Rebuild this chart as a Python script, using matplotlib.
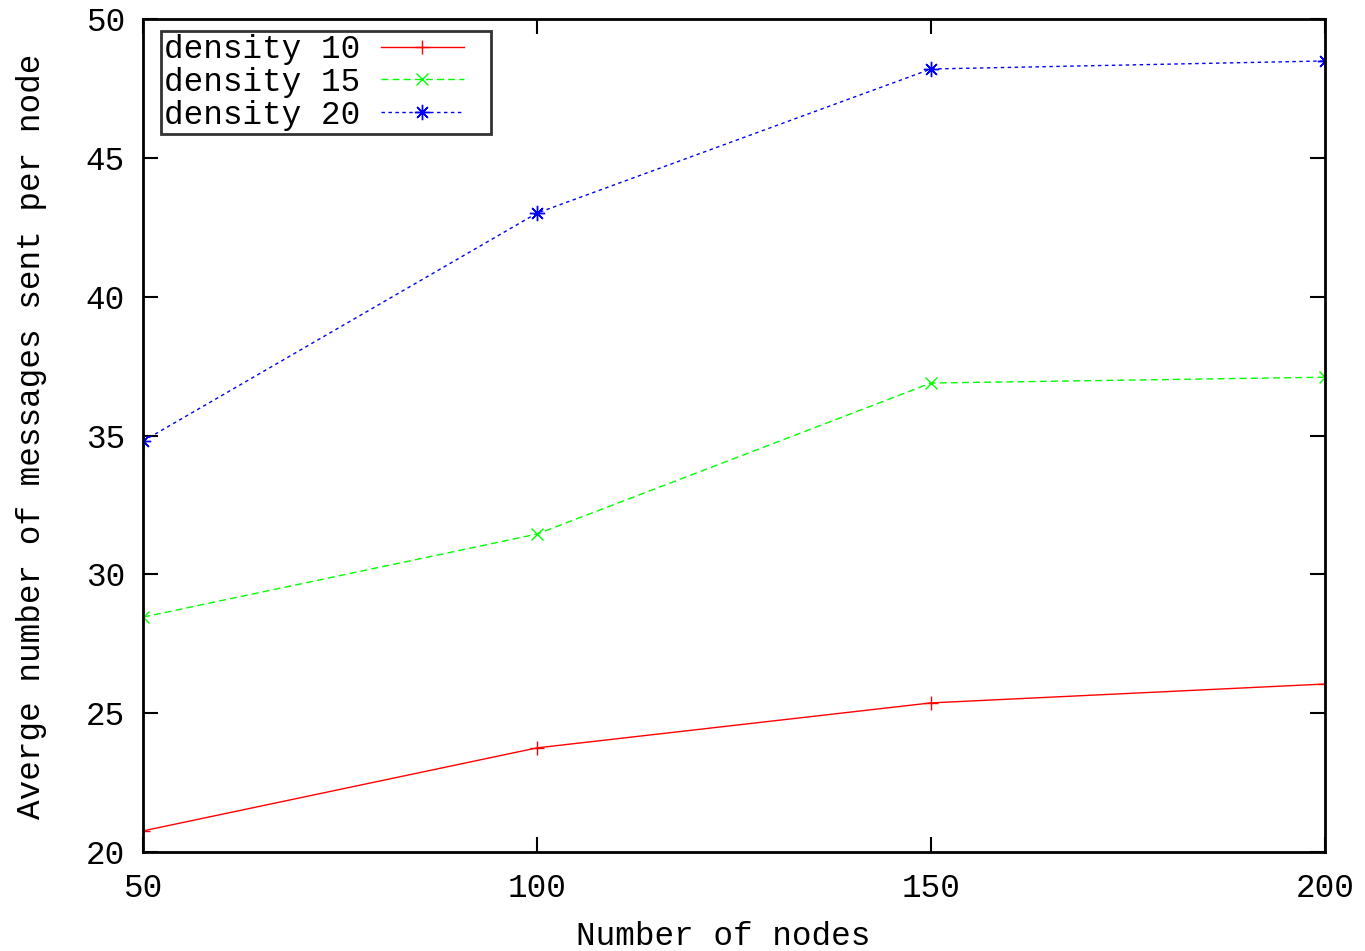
import matplotlib
matplotlib.use("Agg")
import matplotlib.pyplot as plt
from matplotlib.legend_handler import HandlerLine2D

nodes = [50, 100, 150, 200]
density10 = [20.76, 23.75, 25.37, 26.05]
density15 = [28.46, 31.45, 36.89, 37.10]
density20 = [34.80, 43.01, 48.20, 48.49]
labels = ["density 10", "density 15", "density 20"]
xticks = [50, 100, 150, 200]
yticks = [20, 25, 30, 35, 40, 45, 50]

plt.rcParams['font.family'] = ['Liberation Mono', 'DejaVu Sans Mono']


class PaddedLine(HandlerLine2D):
    def create_artists(self, legend, orig_handle, xdescent, ydescent, width, height, fontsize, trans):
        return super().create_artists(legend, orig_handle, xdescent, ydescent, width - 17, height, fontsize, trans)


fig = plt.figure(figsize=(13.65, 9.51), dpi=100)
ax = fig.add_axes([0.1048, 0.1041, 0.8659, 0.8759])

fs = 23.5
l1, = ax.plot(nodes, density10, color='#ff0000', lw=1, ls='-', marker='+', ms=10, mew=1, label=labels[0])
l2, = ax.plot(nodes, density15, color='#00ff00', lw=1, ls=(0, (5, 3)), marker='x', ms=8, mew=1, label=labels[1])
l3, = ax.plot(nodes, density20, color='#0000ff', lw=1, ls=(0, (2.5, 2.5)), marker=(8, 2, 0), ms=11, mew=1, label=labels[2])

ax.set_xlim(50, 200)
ax.set_ylim(20, 50)
ax.set_xticks(xticks)
ax.set_yticks(yticks)
ax.tick_params(direction='in', length=11, width=1.5, top=True, right=True, labelsize=fs, colors='black')
ax.tick_params(axis='x', pad=15)
ax.tick_params(axis='y', pad=13)
for s in ax.spines.values():
    s.set_linewidth(2)

ax.set_xlabel("Number of nodes", fontsize=fs)
ax.xaxis.set_label_coords((723 - 143) / 1182, -(937 - 852) / 833)
ax.xaxis.label.set_va('center')
ax.set_ylabel("Averge number of messages sent per node", fontsize=fs)
ax.yaxis.set_label_coords(-(143 - 31) / 1182, (852 - 436) / 833)
ax.yaxis.label.set_va('center')

fpx = fs * 100 / 72.0
leg = ax.legend(handler_map={l1: PaddedLine(), l2: PaddedLine(), l3: PaddedLine()},
                loc='upper left', bbox_to_anchor=(18 / 1182, 1 - 12 / 833), markerfirst=False, fontsize=fs,
                frameon=True, fancybox=False, edgecolor='black', handlelength=(90 + 17) / fpx,
                handletextpad=20 / fpx, borderpad=0.1, labelspacing=0.05, borderaxespad=0.0, numpoints=1)
leg.get_frame().set_linewidth(2)

fig.savefig("out.png", dpi=100)
